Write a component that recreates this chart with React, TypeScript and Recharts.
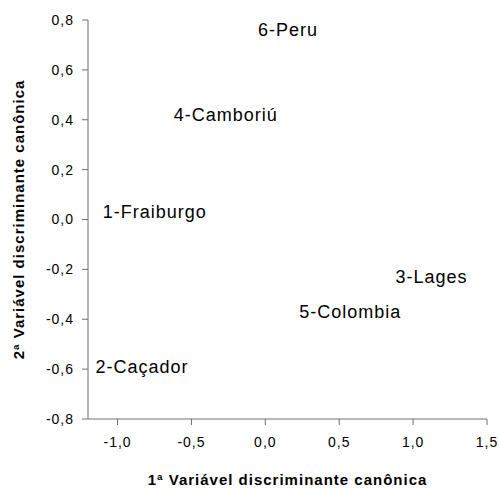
import React from "react";
import { ScatterChart, Scatter, XAxis, YAxis } from "recharts";

// sites and their positions on the two canonical discriminant variables
const sites = ["6-Peru", "4-Camboriú", "1-Fraiburgo", "3-Lages", "5-Colombia", "2-Caçador"];
const can1 = [-0.05, -0.62, -1.1, 0.88, 0.23, -1.15];
const can2 = [0.76, 0.42, 0.03, -0.23, -0.37, -0.59];

const xTicks = [-1.0, -0.5, 0.0, 0.5, 1.0, 1.5];
const yTicks = [-0.8, -0.6, -0.4, -0.2, 0.0, 0.2, 0.4, 0.6, 0.8];

const xTitle = "1ª Variável discriminante canônica";
const yTitle = "2ª Variável discriminante canônica";

const data = sites.map((name, i) => ({ name, x: can1[i], y: can2[i] }));

const FONT = "'Liberation Sans', Arial, sans-serif";
const AXIS = "#6e6e6e";

const fmt = (v: number) => v.toFixed(1).replace(".", ",");

const SiteLabel = (props: any) => {
  const { cx, cy, payload } = props;
  return (
    <text
      x={cx}
      y={cy}
      dominantBaseline="central"
      fontFamily={FONT}
      fontSize={18}
      letterSpacing={1}
      fill="#000"
    >
      {payload.name}
    </text>
  );
};

const XTitle = (props: any) => {
  const vb = props.viewBox;
  return (
    <text
      x={vb.x + vb.width / 2}
      y={vb.y + 66}
      textAnchor="middle"
      fontFamily={FONT}
      fontWeight="bold"
      fontSize={15}
      letterSpacing={1}
      fill="#000"
    >
      {xTitle}
    </text>
  );
};

const YTitle = (props: any) => {
  const vb = props.viewBox;
  const cy = vb.y + vb.height / 2;
  return (
    <text
      x={24}
      y={cy}
      transform={`rotate(-90, 24, ${cy})`}
      textAnchor="middle"
      fontFamily={FONT}
      fontWeight="bold"
      fontSize={15}
      letterSpacing={1}
      fill="#000"
    >
      {yTitle}
    </text>
  );
};

const tickStyle = { fontFamily: FONT, fontSize: 14, fill: "#000", letterSpacing: 1 };

export default function App() {
  return (
    <div style={{ position: "absolute", left: 0, top: 0, background: "#fff" }}>
      <ScatterChart width={499} height={488} margin={{ top: 20, right: 12, left: 0, bottom: 0 }}>
        <XAxis
          type="number"
          dataKey="x"
          domain={[-1.2, 1.5]}
          ticks={xTicks}
          tickFormatter={fmt}
          tick={tickStyle}
          tickSize={6}
          tickMargin={12}
          stroke={AXIS}
          height={69}
          allowDataOverflow
          label={<XTitle />}
        />
        <YAxis
          type="number"
          dataKey="y"
          domain={[-0.8, 0.8]}
          ticks={yTicks}
          tickFormatter={fmt}
          tick={tickStyle}
          tickSize={6}
          tickMargin={8}
          stroke={AXIS}
          width={88}
          allowDataOverflow
          label={<YTitle />}
        />
        <Scatter data={data} shape={SiteLabel} isAnimationActive={false} />
      </ScatterChart>
    </div>
  );
}
